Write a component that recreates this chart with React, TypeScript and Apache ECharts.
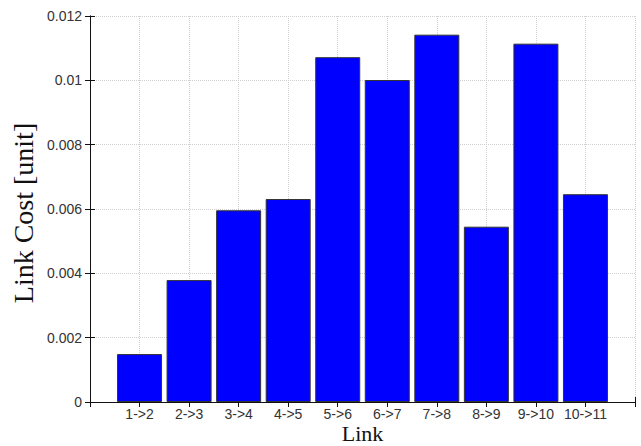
import React, { useEffect, useRef } from "react";
import * as echarts from "echarts";

const categories = ["1->2", "2->3", "3->4", "4->5", "5->6", "6->7", "7->8", "8->9", "9->10", "10->11"];
const costs = [0.00149, 0.00379, 0.00596, 0.00631, 0.01072, 0.01001, 0.01142, 0.00545, 0.01114, 0.00646];
const yTicks = { min: 0, max: 0.012, interval: 0.002 };

export default function App() {
  const ref = useRef<HTMLDivElement>(null);
  useEffect(() => {
    document.body.style.margin = "0";
    const chart = echarts.init(ref.current!, null, { renderer: "svg" });
    const data = costs.map((v, i) => [i + 1, v]);
    const labelStyle = { fontFamily: "Liberation Sans, Arial, sans-serif", fontSize: 14, color: "#333" };
    const split = { show: true, lineStyle: { color: "#d0d0d0", type: "dotted", width: 1 } };
    const serif = "Liberation Serif, Times New Roman, serif";
    chart.setOption({
      animation: false,
      backgroundColor: "#ffffff",
      grid: { left: 90, right: 6, top: 16, bottom: 44, containLabel: false, outerBoundsMode: "none" },
      xAxis: [
        {
          type: "value",
          min: 0,
          max: 11,
          interval: 1,
          name: "Link",
          nameLocation: "middle",
          nameGap: 19.5,
          nameMoveOverlap: false,
          nameTextStyle: { fontFamily: serif, fontSize: 22, color: "#111", verticalAlign: "top", lineHeight: 24 },
          axisLine: { show: true, lineStyle: { color: "#111", width: 1 } },
          axisTick: { show: true, inside: true, length: 5, lineStyle: { color: "#111" } },
          axisLabel: {
            ...labelStyle,
            lineHeight: 13,
            margin: 5,
            formatter: (v: number) => categories[v - 1] ?? "",
          },
          splitLine: split,
        },
        {
          type: "value",
          position: "top",
          min: 0,
          max: 11,
          interval: 1,
          axisLine: { show: true, lineStyle: { color: "#111", width: 1 } },
          axisTick: { show: true, inside: true, length: 5, lineStyle: { color: "#111" } },
          axisLabel: { show: false },
          splitLine: { show: false },
        },
      ],
      yAxis: [
        {
          type: "value",
          min: yTicks.min,
          max: yTicks.max,
          interval: yTicks.interval,
          name: "Link Cost [unit]",
          nameLocation: "middle",
          nameGap: 53,
          nameMoveOverlap: false,
          nameTextStyle: { fontFamily: serif, fontSize: 28, color: "#111", padding: [0, 8, 0, 0] },
          axisLine: { show: true, lineStyle: { color: "#111", width: 1 } },
          axisTick: { show: true, inside: true, length: 5, lineStyle: { color: "#111" } },
          axisLabel: { ...labelStyle, margin: 8 },
          splitLine: split,
        },
        {
          type: "value",
          position: "right",
          min: yTicks.min,
          max: yTicks.max,
          interval: yTicks.interval,
          axisLine: { show: true, lineStyle: { color: "#111", width: 1 } },
          axisTick: { show: true, inside: true, length: 5, lineStyle: { color: "#111" } },
          axisLabel: { show: false },
          splitLine: { show: false },
        },
      ],
      series: [
        {
          type: "bar",
          data,
          barWidth: 45,
          itemStyle: { color: "#0000ff", borderColor: "#333", borderWidth: 1 },
        },
      ],
    });
    return () => chart.dispose();
  }, []);
  return <div ref={ref} style={{ width: 641, height: 446 }} />;
}
